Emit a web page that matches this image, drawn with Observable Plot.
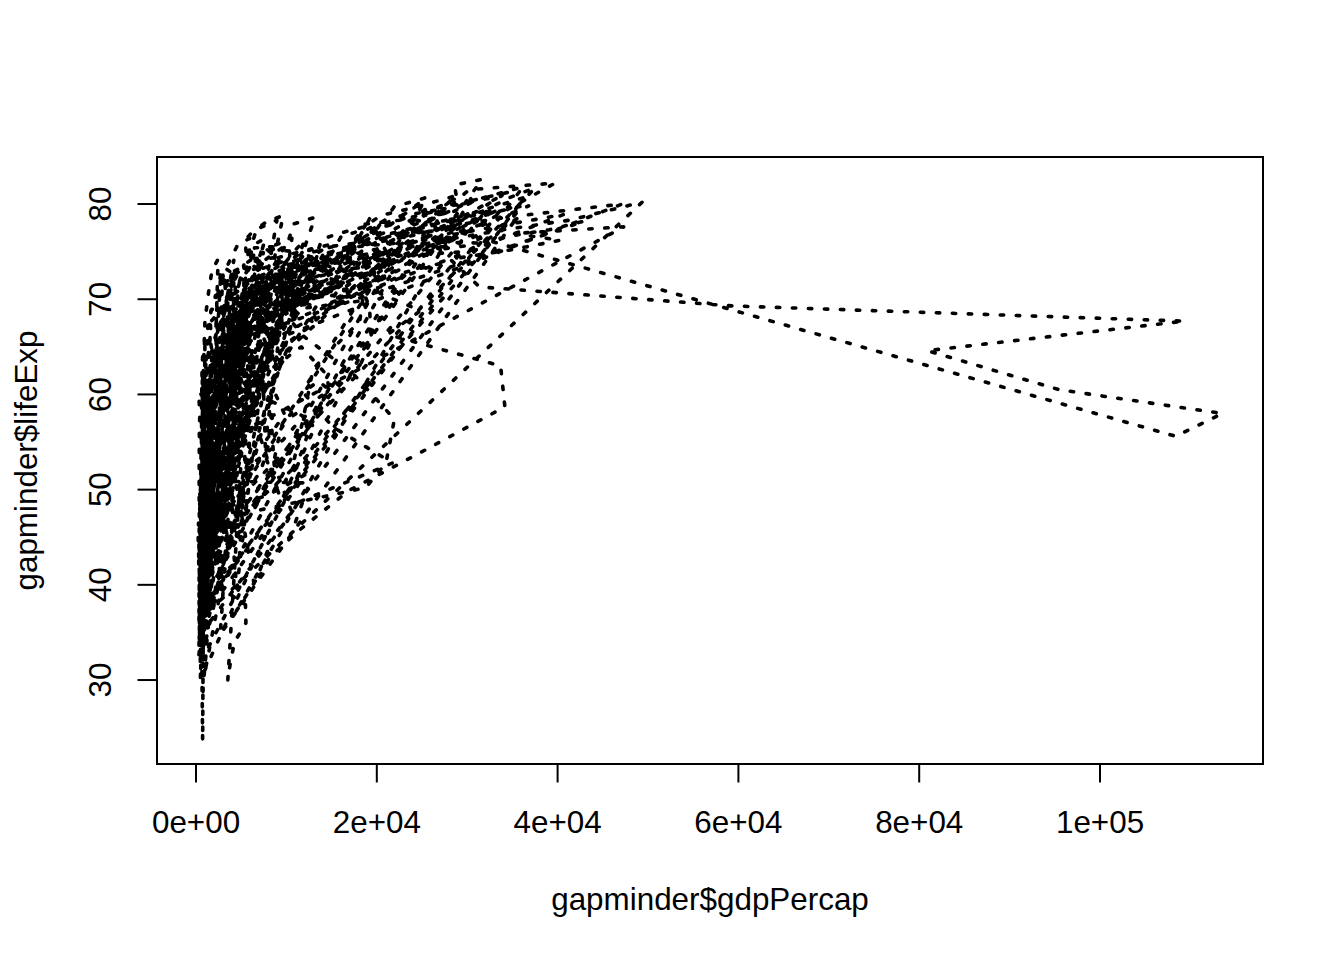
<!DOCTYPE html>
<html><head><meta charset="utf-8">
<script src="https://cdn.jsdelivr.net/npm/d3@7"></script>
<script src="https://cdn.jsdelivr.net/npm/@observablehq/plot@0.6"></script>
<style>html,body{margin:0;padding:0;background:#fff}svg{display:block}</style>
</head><body><div id="chart"></div>
<script>
const countries = ["Afghanistan","Albania","Algeria","Angola","Argentina","Australia","Austria","Bahrain","Bangladesh","Belgium","Benin","Bolivia","Bosnia and Herzegovina","Botswana","Brazil","Bulgaria","Burkina Faso","Burundi","Cambodia","Cameroon","Canada","Central African Republic","Chad","Chile","China","Colombia","Comoros","Congo, Dem. Rep.","Congo, Rep.","Costa Rica","Cote d'Ivoire","Croatia","Cuba","Czech Republic","Denmark","Djibouti","Dominican Republic","Ecuador","Egypt","El Salvador","Equatorial Guinea","Eritrea","Ethiopia","Finland","France","Gabon","Gambia","Germany","Ghana","Greece","Guatemala","Guinea","Guinea-Bissau","Haiti","Honduras","Hong Kong","Hungary","Iceland","India","Indonesia","Iran","Iraq","Ireland","Israel","Italy","Jamaica","Japan","Jordan","Kenya","Korea, Dem. Rep.","Korea, Rep.","Kuwait","Lebanon","Lesotho","Liberia","Libya","Madagascar","Malawi","Malaysia","Mali","Mauritania","Mauritius","Mexico","Mongolia","Montenegro","Morocco","Mozambique","Myanmar","Namibia","Nepal","Netherlands","New Zealand","Nicaragua","Niger","Nigeria","Norway","Oman","Pakistan","Panama","Paraguay","Peru","Philippines","Poland","Portugal","Puerto Rico","Reunion","Romania","Rwanda","Sao Tome and Principe","Saudi Arabia","Senegal","Serbia","Sierra Leone","Singapore","Slovak Republic","Slovenia","Somalia","South Africa","Spain","Sri Lanka","Sudan","Swaziland","Sweden","Switzerland","Syria","Taiwan","Tanzania","Thailand","Togo","Trinidad and Tobago","Tunisia","Turkey","Uganda","United Kingdom","United States","Uruguay","Venezuela","Vietnam","West Bank and Gaza","Yemen, Rep.","Zambia","Zimbabwe"];

const gdpPercap = [
[779,821,853,836,740,786,978,852,649,635,727,975],
[1601,1942,2313,2760,3313,3533,3631,3739,2497,3193,4604,5937],
[2449,3014,2551,3247,4183,4910,5745,5681,5023,4797,5288,6223],
[3521,3828,4269,5523,5473,3009,2757,2430,2628,2277,2773,4797],
[5911,6857,7133,8053,9443,10079,8998,9140,9308,10967,8798,12779],
[10040,10950,12217,14526,16789,18334,19477,21889,23425,26998,30688,34435],
[6137,8843,10751,12835,16662,19749,21597,23688,27042,29096,32418,36126],
[9867,11636,12753,14805,18269,19340,19211,18524,19036,20292,23404,29796],
[684,662,686,721,630,660,677,752,838,973,1136,1391],
[8343,9715,10991,13149,16672,19118,20980,22526,25576,27561,30486,33693],
[1063,960,949,1036,1086,1029,1278,1226,1191,1233,1373,1441],
[2677,2128,2181,2587,2980,3548,3157,2754,2962,3326,3413,3822],
[974,1354,1710,2172,2860,3528,4127,4314,2547,4766,6019,7446],
[851,918,984,1215,2264,3215,4551,6206,7954,8647,11004,12570],
[2109,2487,3337,3430,4986,6660,7031,7807,6950,7958,8131,9066],
[2444,3009,4254,5578,6597,7612,8225,8239,6302,5970,7697,10681],
[543,617,723,795,855,743,807,912,932,946,1038,1217],
[339,380,355,413,464,556,560,622,632,463,446,430],
[369,397,467,523,422,525,624,684,682,734,896,1714],
[1173,1313,1400,1508,1684,1783,2368,2603,1793,1694,1934,2042],
[11367,12490,13462,16077,18971,22091,22899,26627,26343,28955,33329,36319],
[1071,1191,1193,1136,1070,1109,957,845,748,741,739,706],
[1179,1308,1390,1197,1104,1134,798,952,1058,1005,1156,1704],
[3940,4316,4519,5107,5494,4757,5096,5547,7596,10118,10779,13172],
[400,576,488,613,677,741,962,1379,1656,2289,3119,4959],
[2144,2324,2492,2679,3265,3816,4398,4903,5445,6117,5755,7007],
[1103,1211,1407,1876,1938,1173,1267,1316,1247,1174,1076,986],
[781,906,897,861,905,796,673,672,458,312,241,278],
[2126,2315,2465,2678,3213,3259,4879,4201,4016,3484,3633,3633],
[2627,3173,3461,4161,5118,5927,5262,5630,6160,6677,7723,9645],
[1389,1500,1728,2053,2379,2518,2603,2157,1649,1787,1649,1545],
[3119,4339,5478,6961,9164,11305,13222,13823,8448,9876,11628,14619],
[5587,6092,5181,5690,5305,6380,7317,7533,5593,5432,6341,8948],
[6876,8256,10137,11399,13108,14800,15377,16310,14297,16049,17596,22833],
[9692,11100,13583,15937,18866,20423,21688,25116,26407,29804,32167,35278],
[2670,2865,3021,3020,3694,3081,2880,2880,2377,1895,1908,2082],
[1398,1544,1662,1654,2190,2681,2862,2900,3045,3614,4564,6025],
[3522,4086,4579,4976,6124,7429,7214,6482,7104,7429,5773,6873],
[1419,1459,1694,1815,2024,2785,3504,3885,3795,4173,4755,5581],
[3048,3422,3777,4359,4836,5138,4098,4141,4444,5355,5352,5728],
[376,427,583,916,672,958,927,966,1132,2814,7703,12154],
[329,344,381,469,515,505,524,521,582,913,766,642],
[362,379,419,516,567,556,577,574,422,516,530,691],
[6425,7545,9372,11766,14734,15605,18533,21141,20647,23723,28205,33207],
[7030,8663,10560,13000,16107,18293,20294,22066,24704,26505,28926,30470],
[4293,4976,6631,8359,11402,21746,15113,11864,13522,14723,12522,13206],
[485,521,599,734,756,884,836,611,666,654,660,753],
[7144,10188,12902,14746,18016,20513,22032,24639,26505,27789,30036,32170],
[911,1044,1190,1126,1178,993,876,847,925,1005,1112,1328],
[3531,4916,6017,8513,12725,14196,15268,16121,17541,18748,22514,27538],
[2428,2617,2750,3243,4032,4597,4140,4005,4512,4444,4859,5187],
[510,576,686,708,741,875,858,805,795,870,945,943],
[300,432,522,716,820,764,838,736,745,797,576,580],
[1840,1726,1797,1452,1654,1875,2011,1823,1456,1342,1270,1202],
[2195,2291,2539,2538,2529,3203,3121,3023,3082,3160,3099,3548],
[3054,3629,4693,6198,8316,11186,14561,20038,24757,28378,30209,39725],
[5264,6041,7550,9326,10168,11675,12546,12986,10536,11712,14843,18009],
[7268,9244,10350,13319,15798,19655,23270,26923,25144,28061,31163,36181],
[547,590,658,700,725,699,856,977,1164,1459,1747,2452],
[750,859,849,762,1111,1383,1517,1649,2383,3119,2874,3541],
[3035,3290,4187,5907,9613,11889,7608,6642,7236,8264,9241,11606],
[4130,6229,8342,8931,9576,14688,14517,11644,3745,3076,4391,4471],
[5211,5599,6632,7656,9531,11151,12618,13873,17559,24521,34077,40676],
[4087,5109,6058,7106,8393,12786,13367,17122,18051,20897,21905,25523],
[4931,6249,8244,10022,12269,14256,16537,19208,22014,24675,27968,28570],
[2899,4757,5246,6124,7434,6650,6068,6351,7405,7122,6994,7321],
[3217,4318,6577,9848,14779,16610,19384,22376,26825,28817,28605,31656],
[1547,1886,2348,2742,2110,2852,4161,4449,3431,3645,3845,4519],
[854,944,897,1057,1223,1268,1348,1361,1342,1360,1288,1463],
[1088,1571,1622,2144,3702,4106,4106,4106,3726,1691,1647,1593],
[1031,1488,1536,2029,3031,4657,5623,8533,12104,15994,19234,23348],
[108382,113523,95458,80895,109348,59265,31354,28118,34933,40301,35110,47307],
[4835,6090,5715,6006,7486,8660,7641,6890,6891,8754,9314,10461],
[299,336,411,498,497,745,797,773,977,1186,1275,1569],
[575,620,634,713,803,640,573,506,636,609,531,415],
[2388,3448,6757,18773,21011,21951,17364,11771,9640,9467,9535,12057],
[1443,1589,1644,1634,1749,1545,1303,1156,1040,986,894,1045],
[369,431,496,523,631,685,668,635,563,692,665,759],
[1831,1811,2037,2278,2849,3828,4921,5250,7278,10132,10207,12452],
[452,490,497,545,581,686,619,561,739,790,952,1043],
[744,846,1056,1422,1586,1498,1481,1421,1361,1483,1579,1803],
[1968,2034,2529,2475,2575,3710,3688,4783,6058,7426,9022,10957],
[3478,4132,4582,5755,6809,7675,9611,8688,9472,9767,10742,11978],
[786,912,1056,1226,1421,1648,2000,2339,1785,1902,2140,3096],
[2648,3682,4650,5907,7779,9595,11222,11733,7003,6465,6558,9254],
[1688,1643,1566,1711,1930,2371,2703,2756,2949,2982,3258,3821],
[469,491,566,566,725,502,462,390,410,473,634,824],
[331,350,388,349,357,372,424,385,347,415,611,944],
[2424,2622,3174,3793,3877,4192,3694,3805,3632,3900,4073,4811],
[546,598,652,676,675,695,718,775,898,1011,1057,1091],
[8942,11276,12791,15363,18795,21209,21399,23651,26791,30246,33725,36798],
[10557,12247,13176,14464,16046,16234,17632,19007,18363,21050,23190,25185],
[3112,3458,3634,4644,4689,5487,3470,2955,2170,2253,2475,2749],
[762,860,998,1054,954,808,909,668,582,580,601,620],
[1077,1100,1151,1015,1698,1982,1577,1385,1620,1625,1615,2014],
[10095,11654,13450,16362,18965,23311,26299,31541,33966,41283,44684,49357],
[1829,2243,2925,4721,10618,11848,12955,18115,18617,19702,19775,22316],
[685,748,804,942,1050,1176,1444,1705,1972,2049,2093,2606],
[2480,2962,3288,4421,5364,5351,7010,7034,6619,7114,7357,9809],
[1952,2047,2148,2299,2523,3248,4258,3999,4196,4248,3784,4173],
[3759,4245,4957,5788,5938,6281,6435,6361,4446,5839,5909,7409],
[1273,1548,1650,1746,1989,2373,2603,2190,2279,2537,2651,3190],
[4029,4734,5339,6557,8006,9508,8451,9082,7739,10160,12003,15390],
[3068,3775,4728,6362,9022,10172,11754,13039,16207,17641,19971,20510],
[3082,3907,5108,6930,9123,9771,10331,12281,14641,16999,18856,19329],
[2719,2770,3174,4407,5302,4319,5268,5303,6101,6072,6316,7670],
[3145,3944,4734,6471,8012,9825,9605,9697,6598,7346,7886,10808],
[493,540,597,511,591,670,882,848,737,590,786,863],
[880,861,1071,1385,1533,1738,1890,1517,1429,1339,1353,1598],
[6460,8157,11626,16903,24837,34168,33693,21199,24841,20586,19014,21655],
[1450,1568,1654,1612,1597,1562,1518,1441,1367,1393,1520,1712],
[3581,4981,6289,7992,10523,12980,15181,15871,9325,7914,7236,9787],
[879,1004,1117,1206,1354,1349,1465,1295,1069,574,699,863],
[2315,2844,3675,4977,8597,11210,15169,18862,24769,33519,36023,47143],
[5074,6093,7481,8412,9674,10922,11348,12037,9499,12127,13639,18678],
[4215,5862,7403,9405,12384,15277,17867,18678,14215,17161,20660,25768],
[1136,1258,1370,1285,1254,1451,1177,1093,927,930,882,926],
[4725,5487,5769,7114,7765,8028,8568,7826,7225,7479,7711,9270],
[3834,4565,5694,7994,10639,13237,13926,15765,18603,20445,24835,28821],
[1083,1072,1074,1136,1213,1349,1648,1877,2154,2665,3015,3970],
[1615,1770,1959,1688,1659,2203,1895,1508,1493,1632,1994,2602],
[1148,1244,1857,2613,3364,3781,3895,3985,3553,3877,4128,4513],
[8528,9912,12329,15259,17832,18856,20667,23587,23880,25267,29342,33860],
[14734,17909,20431,22966,27195,26982,28398,30282,31872,32135,34481,37506],
[1644,2118,2194,1882,2571,3196,3761,3117,3341,4015,4091,4185],
[1207,1507,1823,2644,4063,5597,7427,11055,15216,20207,23235,28718],
[717,698,722,916,1019,1174,874,832,825,789,899,1107],
[758,793,1002,1296,1524,1962,2394,2982,4616,5853,5913,7458],
[859,925,1068,1477,1650,1533,1344,1203,1034,982,886,883],
[3023,4100,4998,5621,6619,7899,9119,7389,7370,8792,11460,18009],
[1469,1396,1660,1932,2850,3120,3561,3810,4332,4877,5723,7093],
[1970,2837,3022,3574,4170,4269,4241,5090,5678,6601,6508,8458],
[735,775,768,908,950,844,682,618,644,816,928,1056],
[9980,11283,12477,14143,15895,17429,18232,21665,22705,26075,29479,33203],
[13990,14847,16173,19531,21806,24073,25010,29884,32004,35767,39097,42952],
[5717,6151,5603,5445,5703,6504,6920,7452,8137,9230,7727,10611],
[7690,9803,8423,9541,10506,13144,11153,9884,10734,10165,8605,11416],
[605,676,772,637,700,714,707,821,989,1386,1764,2442],
[1516,1827,2199,2650,3134,3683,4336,5108,6018,7111,4516,3025],
[782,804,826,862,1266,1830,1978,1972,1879,2118,2235,2281],
[1147,1312,1453,1777,1773,1589,1409,1213,1211,1071,1072,1271],
[407,519,527,570,800,686,789,706,693,792,672,470]
];

const lifeExp = [
[28.8,30.3,32,34,36.1,38.4,39.9,40.8,41.7,41.8,42.1,43.8],
[55.2,59.3,64.8,66.2,67.7,68.9,70.4,72,71.6,73,75.7,76.4],
[43.1,45.7,48.3,51.4,54.5,58,61.4,65.8,67.7,69.2,71,72.3],
[30,32,34,36,37.9,39.5,39.9,39.9,40.4,40.9,41,42.7],
[62.5,64.4,65.1,65.6,67.1,68.5,69.9,70.8,71.9,73.3,74.3,75.3],
[69.1,70.3,70.9,71.1,71.9,73.5,74.7,76.3,77.6,78.8,80.4,81.2],
[66.8,67.5,69.5,70.1,70.6,72.2,73.2,74.9,76,77.5,79,79.8],
[50.9,53.8,56.9,59.9,63.3,65.6,69.1,70.8,72.6,73.9,74.8,75.6],
[37.5,39.3,41.2,43.5,45.3,46.9,50,52.8,56,59.4,62,64.1],
[68,69.2,70.3,70.9,71.4,72.8,73.9,75.4,76.5,77.5,78.3,79.4],
[38.2,40.4,42.6,44.9,47,49.2,50.9,52.3,53.9,54.8,54.4,56.7],
[40.4,41.9,43.4,45,46.7,50,53.9,57.3,59.9,62,63.9,65.6],
[53.8,58.5,61.9,64.8,67.5,69.9,70.7,71.1,72.2,73.2,74.1,74.9],
[47.6,49.6,51.5,53.3,56,59.3,61.5,63.6,62.7,52.6,46.6,50.7],
[50.9,53.3,55.7,57.6,59.5,61.5,63.3,65.2,67.1,69.4,71,72.4],
[59.6,66.6,69.5,70.4,70.9,70.8,71.1,71.3,71.2,70.3,72.1,73],
[32,34.9,37.8,40.7,43.6,46.1,48.1,49.6,50.3,50.3,50.7,52.3],
[39,40.5,42,43.5,44.1,45.9,47.5,48.2,44.7,45.3,47.4,49.6],
[39.4,41.4,43.4,45.4,40.3,31.2,51,53.9,55.8,56.5,56.8,59.7],
[38.5,40.4,42.6,44.8,47,49.4,53,55,54.3,52.2,49.9,50.4],
[68.8,70,71.3,72.1,72.9,74.2,75.8,76.9,78,78.6,79.8,80.7],
[35.5,37.5,39.5,41.5,43.5,46.8,48.3,50.5,49.4,46.1,43.3,44.7],
[38.1,39.9,41.7,43.6,45.6,47.4,49.5,51.1,51.7,51.6,50.5,50.7],
[54.7,56.1,57.9,60.5,63.4,67.1,70.6,72.5,74.1,75.8,77.9,78.6],
[44,50.5,44.5,58.4,63.1,64,65.5,67.3,68.7,70.4,72,73],
[50.6,55.1,57.9,60,61.6,63.8,66.7,67.8,68.4,70.3,71.7,72.9],
[40.7,42.5,44.5,46.5,48.9,50.9,52.9,54.9,57.9,60.7,63,65.2],
[39.1,40.7,42.1,44.1,45.9,47.8,47.8,47.4,45.5,42.6,45,46.5],
[42.1,45,48.4,52,54.9,55.6,56.7,57.5,56.4,53,53,55.3],
[57.2,60,62.8,65.4,67.8,70.8,73.5,74.6,75.7,77.3,78.1,78.8],
[40.5,42.5,44.9,47.4,49.8,52.4,54,54.7,52,48,46.8,48.3],
[61.2,64.8,67.1,68.5,69.6,70.6,70.5,71.5,72.5,73.7,74.9,75.7],
[59.4,62.3,65.2,68.3,70.7,72.6,73.7,74.2,74.4,76.2,77.2,78.3],
[66.9,69,69.9,70.4,70.3,70.7,71,71.6,72.4,74,75.5,76.5],
[70.8,71.8,72.4,73,73.5,74.7,74.6,74.8,75.3,76.1,77.2,78.3],
[34.8,37.3,39.7,42.1,44.4,46.5,48.8,50,51.6,53.2,53.4,54.8],
[45.9,49.8,53.5,56.8,59.6,61.8,63.7,66,68.5,70,70.8,72.2],
[48.4,51.4,54.6,56.7,58.8,61.3,64.3,67.2,69.6,72.3,74.2,75],
[41.9,44.4,47,49.3,51.1,53.3,56,59.8,63.7,67.2,69.8,71.3],
[45.3,48.6,52.3,55.9,58.2,56.7,56.6,63.2,66.8,69.5,70.7,71.9],
[34.5,36,37.5,39,40.5,42,43.7,45.7,47.5,48.2,49.3,51.6],
[35.9,38,40.2,42.2,44.1,44.5,43.9,46.5,49,53.4,55.6,58],
[34.1,36.7,40.1,42.1,43.5,44.5,44.9,46.7,48.1,49.4,50.7,52.9],
[66.5,67.5,68.8,69.8,70.9,72.5,74.6,74.8,75.7,77.1,78.4,79.3],
[67.4,68.9,70.5,71.6,72.4,73.8,74.9,76.3,77.5,78.6,79.6,80.7],
[37,38,40.5,44.6,48.7,52.8,56.6,60.2,61.4,60.5,56.8,56.7],
[30,32.1,33.9,35.9,38.3,41,45.6,49.3,52.6,55.9,58,59.4],
[67.5,69.1,70.3,70.8,71,72.5,73.8,74.8,76.1,77.3,78.7,79.4],
[43.1,44.8,46.5,48.1,49.9,51.8,53.7,55.7,57.5,58.6,58.5,60],
[65.9,67.9,69.5,71,72.3,73.7,75.2,76.7,77,77.9,78.3,79.5],
[42,44.1,47,50,53.7,56,58.1,60.8,63.4,66.3,69,70.3],
[33.6,34.6,35.8,37.2,38.8,40.8,42.9,45.6,48.6,50.8,53.7,56],
[32.5,33.5,34.5,35.5,36.5,37.5,39.3,41.2,43.3,44.9,45.5,46.4],
[37.6,40.7,43.6,46.2,48,49.9,51.5,53.6,55.1,56.7,58.1,60.9],
[41.9,44.7,48,50.9,53.9,57.4,60.9,64.5,66.4,67.7,68.6,70.2],
[61,64.8,67.7,70,72,73.6,75.5,76.2,77.6,80,81.5,82.2],
[64,66.4,68,69.5,69.8,70,69.4,69.6,69.2,71,72.6,73.3],
[72.5,73.5,73.7,73.7,74.5,76.1,77,77.2,78.8,79,80.5,81.8],
[37.4,40.2,43.6,47.2,50.7,54.2,56.6,58.6,60.2,61.8,62.9,64.7],
[37.5,39.9,42.5,46,49.2,52.7,56.2,60.1,62.7,66,68.6,70.6],
[44.9,47.2,49.3,52.5,55.2,57.7,59.6,63,65.7,68,69.5,71],
[45.3,48.4,51.5,54.5,57,60.4,62,65,59.5,58.8,57,59.5],
[66.9,68.9,70.3,71.1,71.3,72,73.1,74.4,75.5,76.1,77.8,78.9],
[65.4,67.8,69.4,70.8,71.6,73,74.5,75.6,76.9,78.3,79.7,80.7],
[65.9,67.8,69.2,71.1,72.2,73.5,75,76.4,77.4,78.8,80.2,80.5],
[58.5,62.6,65.6,67.5,69,70.1,71.2,71.8,71.8,72.3,72,72.6],
[63,65.5,68.7,71.4,73.4,75.4,77.1,78.7,79.4,80.7,82,82.6],
[43.2,45.7,48.1,51.6,56.5,61.1,63.7,65.9,68,69.8,71.3,72.5],
[42.3,44.7,47.9,50.7,53.6,56.2,58.8,59.3,59.3,54.4,51,54.1],
[50.1,54.1,56.7,59.9,64,67.2,69.1,70.6,70,67.7,66.7,67.3],
[47.5,52.7,55.3,57.7,62.6,64.8,67.1,69.8,72.2,74.1,77,78.6],
[55.6,58,60.5,64.6,67.7,69.3,71.3,74.2,75.2,76.2,76.9,77.6],
[55.9,59.5,62.1,63.9,65.4,66.1,67.2,67.9,69.3,70.3,71,72],
[42.1,45,47.7,48.5,49.8,52.5,55.1,57.2,59.7,55.6,44.6,42.6],
[38.5,39.5,40.5,41.5,42.6,43.8,44.9,46,40.8,42.2,43.8,45.7],
[42.7,45.3,47.8,50.2,52.8,57.4,62.2,66.2,68.8,70.7,72.7,74],
[36.7,38.9,40.8,42.9,44.9,47,49,49.4,52.2,55,57.3,59.4],
[36.3,37.2,38.4,39.5,41.8,43.8,45.6,47.5,49.4,47.5,45,48.3],
[48.5,52.1,55.7,59.4,63,65.3,68,69.5,70.7,71.9,73,74.2],
[33.7,35.3,36.9,38.5,40,41.7,43.9,46.4,48.4,49.9,51.8,54.5],
[40.5,42.3,44.2,46.3,48.4,50.9,53.4,56,58.3,60.4,62.2,64.2],
[51,58.1,60.2,61.6,62.9,64.9,66.7,68.7,69.7,70.7,72,72.8],
[50.8,55.2,58.3,60.1,62.4,65,67.4,69.5,71.5,73.7,74.9,76.2],
[42.2,45.2,48.3,51.3,53.8,55.5,57.5,60.2,61.3,63.6,65,66.8],
[59.2,61.4,64,67.2,70.6,73.1,74.1,74.9,75.4,75.4,74,74.5],
[42.9,45.4,47.9,50.3,52.9,55.7,59.7,62.7,65.4,67.7,69.6,71.2],
[31.3,33.8,36.2,38.1,40.3,42.5,42.8,42.9,44.3,46.3,44,42.1],
[36.3,41.9,45.1,49.4,53.1,56.1,58.1,58.3,59.3,60.3,59.9,62.1],
[41.7,45.2,48.4,51.2,53.9,56.4,59,60.8,62,58.9,51.5,52.9],
[36.2,37.7,39.4,41.2,44,46.7,49.6,52.5,55.7,59.4,61.3,63.8],
[72.1,73,73.2,73.8,73.8,75.2,76,76.8,77.4,78,78.5,79.8],
[69.4,70.3,71.2,71.5,71.9,72.2,73.8,74.3,76.3,77.6,79.1,80.2],
[42.3,45.4,48.6,51.9,55.2,57.5,59.3,62,65.8,68.4,70.8,72.9],
[37.4,38.6,39.5,40.1,40.5,41.3,42.6,44.6,47.4,51.3,54.5,56.9],
[36.3,37.8,39.4,41,42.8,44.5,45.8,46.9,47.5,47.5,46.6,46.9],
[72.7,73.4,73.5,74.1,74.3,75.4,76,75.9,77.3,78.3,79.1,80.2],
[37.6,40.1,43.2,47,52.1,57.4,62.7,67.7,71.2,72.5,74.2,75.6],
[43.4,45.6,47.7,49.8,51.9,54,56.2,58.2,60.8,61.8,63.6,65.5],
[55.2,59.2,61.8,64.1,66.2,68.7,70.5,72.5,73.7,74.7,75.5,75.5],
[62.6,63.2,64.4,65,65.8,66.4,66.9,67.4,68.2,69.4,70.8,71.8],
[43.9,46.3,49.1,51.4,55.4,58.4,61.4,64.1,66.5,68.4,69.9,71.4],
[47.8,51.3,54.8,56.4,58.1,60.1,62.1,64.2,66.5,68.6,70.3,71.7],
[61.3,65.8,67.6,69.6,70.9,70.7,71.3,71,71,72.8,74.7,75.6],
[59.8,61.5,64.4,66.6,69.3,70.4,72.8,74.1,74.9,76,77.3,78.1],
[64.3,68.5,69.6,71.1,72.2,73.4,73.8,74.6,73.9,74.9,77.8,78.7],
[52.7,55.1,57.7,60.5,64.3,67.1,69.9,72.2,73.6,74.8,75.7,76.4],
[61.1,64.1,66.8,66.8,69.2,69.5,69.7,69.5,69.4,69.7,71.3,72.5],
[40,41.5,43,44.1,44.6,45,46.2,44,23.6,36.1,43.4,46.2],
[46.5,48.9,51.9,54.4,56.5,58.6,60.4,61.7,62.7,63.3,64.3,65.5],
[39.9,42.9,45.9,49.9,53.9,58.7,63,66.3,68.8,70.5,71.6,72.8],
[37.3,39.3,41.5,43.6,45.8,48.9,52.4,55.8,58.2,60.2,61.6,63.1],
[58,61.7,64.5,66.9,68.7,70.3,70.2,71.2,71.7,72.2,73.2,74],
[30.3,31.6,32.8,34.1,35.4,36.8,38.4,40,38.3,39.9,41,42.6],
[60.4,63.2,65.8,67.9,69.5,70.8,71.8,73.6,75.8,77.2,78.8,80],
[64.4,67.5,70,71,70.4,70.5,70.8,71.1,71.4,73,73.8,74.7],
[65.6,67.9,69.2,69.2,69.8,71,71.1,72.3,73.6,75.1,76.7,77.9],
[33,35,37,39,41,42,43,44.5,39.7,43.8,45.9,48.2],
[45,48,50,51.9,53.7,55.5,58.2,60.8,61.9,60.2,53.4,49.3],
[64.9,66.7,69.7,71.4,73.1,74.4,76.3,76.9,77.6,78.8,79.8,80.9],
[57.6,61.5,62.2,64.3,65,65.9,68.8,69,70.4,70.5,70.8,72.4],
[38.6,39.6,40.9,42.9,45.1,47.8,50.3,51.6,53.6,55.4,56.4,58.6],
[41.4,43.4,45,46.6,49.6,52.5,55.6,57.7,58.5,54.3,43.9,39.6],
[71.9,72.5,73.4,74.2,74.7,75.4,76.4,77.2,78.2,79.4,80,80.9],
[69.6,70.6,71.3,72.8,73.8,75.4,76.3,77.4,78,79.4,80.6,81.7],
[45.9,48.3,50.3,53.7,57.3,61.2,64.6,67,69.2,71.5,73.1,74.1],
[58.5,62.4,65.2,67.5,69.4,70.6,72.2,73.4,74.3,75.3,77,78.4],
[41.2,43,44.2,45.8,47.6,49.9,51.5,51.5,50.4,48.5,49.9,52.5],
[50.8,53.6,56.1,58.3,60.4,62.5,64.6,66.1,67.3,67.5,68.6,70.6],
[38.6,41.2,43.9,46.8,49.8,52.9,55.5,56.9,58.1,58.4,57.6,58.4],
[59.1,61.8,64.9,65.4,65.9,68.3,68.8,69.6,69.9,69.5,69,69.8],
[44.6,47.1,49.6,52.1,55.6,59.8,64,66.9,70,72,73,73.9],
[43.6,48.1,52.1,54.3,57,59.5,61,63.1,66.1,68.8,70.8,71.8],
[40,42.6,45.3,48.1,51,50.4,49.8,51.5,48.8,44.6,47.8,51.5],
[69.2,70.4,70.8,71.4,72,72.8,74,75,76.4,77.2,78.5,79.4],
[68.4,69.5,70.2,70.8,71.3,73.4,74.7,75,76.1,76.8,77.3,78.2],
[66.1,67,68.3,68.5,68.7,69.5,70.8,71.9,72.8,74.2,75.3,76.4],
[55.1,57.9,60.8,63.5,65.7,67.5,68.6,70.2,71.2,72.1,72.8,73.7],
[40.4,42.9,45.4,47.8,50.3,55.8,58.8,62.8,67.7,70.7,73,74.2],
[43.2,45.7,48.1,51.6,56.5,60.8,64.4,67,69.7,71.1,72.4,73.4],
[32.5,34,35.2,37,39.8,44.2,49.1,52.9,55.6,58,60.3,62.7],
[42,44.1,46,47.8,50.1,51.4,51.8,50.8,46.1,40.2,39.2,42.4],
[48.5,50.5,52.4,54,55.6,57.7,60.4,62.4,60.4,46.8,40,43.5]
];

const xTicks = [0, 20000, 40000, 60000, 80000, 100000];
const xTickLabels = ["0e+00", "2e+04", "4e+04", "6e+04", "8e+04", "1e+05"];
const yTicks = [30, 40, 50, 60, 70, 80];

const rows = countries.flatMap((country, i) =>
  gdpPercap[i].map((gdp, j) => ({country, gdp, life: lifeExp[i][j]})));

const font = "'Liberation Sans', Arial, sans-serif";
const chart = Plot.plot({
  width: 1344, height: 960,
  marginLeft: 156.5, marginRight: 81.5, marginTop: 156.5, marginBottom: 196.5,
  style: {background: "#fff", fontFamily: font, color: "#000", overflow: "visible"},
  x: {domain: [-4314, 118030]},
  y: {domain: [21.18, 84.94]},
  marks: [
    Plot.frame({stroke: "#000", strokeWidth: 2}),
    Plot.line(rows, {x: "gdp", y: "life", stroke: "#000", strokeWidth: 3.6,
      strokeDasharray: "3.4 12.6", strokeLinecap: "round"}),
    Plot.axisX({ticks: xTicks, tickFormat: (d, i) => xTickLabels[xTicks.indexOf(d)],
      tickSize: 19, tickPadding: 28, fontSize: 31.4, strokeWidth: 2, fill: "#000", stroke: "#000",
      label: "gapminder$gdpPercap", labelAnchor: "center", labelArrow: "none", labelOffset: 146}),
    Plot.axisY({ticks: yTicks, tickFormat: d => String(d), tickRotate: -90,
      tickSize: 19, tickPadding: 27, fontSize: 31.4, strokeWidth: 2, fill: "#000", stroke: "#000",
      textAnchor: "middle",
      label: "gapminder$lifeExp", labelAnchor: "center", labelArrow: "none", labelOffset: 142})
  ]
});
document.getElementById("chart").appendChild(chart);
</script>
</body></html>
